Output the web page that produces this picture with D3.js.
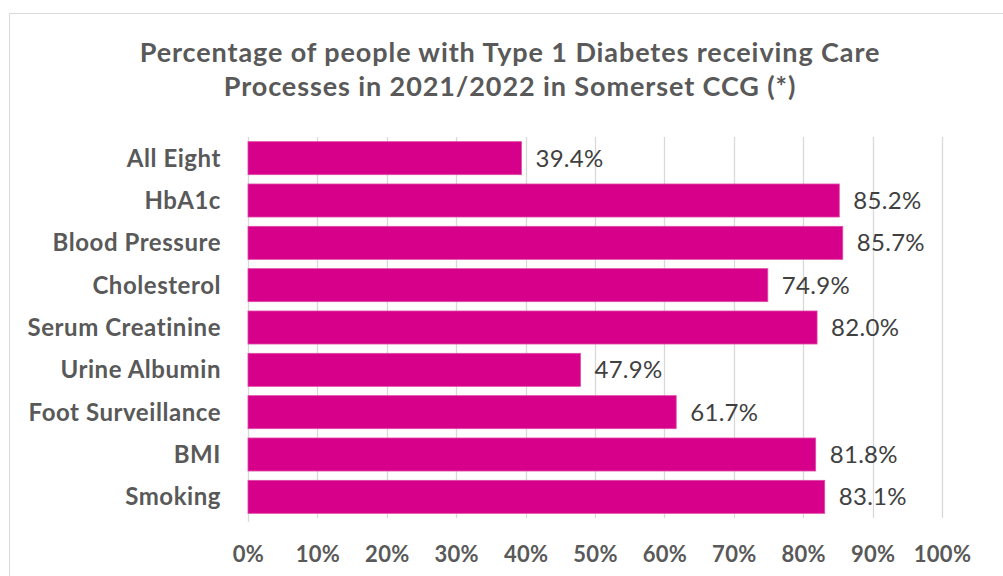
<!DOCTYPE html>
<html>
<head>
<meta charset="utf-8">
<script src="https://cdn.jsdelivr.net/npm/d3@7"></script>
<style>
  html, body { margin: 0; padding: 0; background: #fff; }
  svg { display: block; }
  text { font-family: Lato, "Open Sans", sans-serif; }
</style>
</head>
<body>
<svg id="chart" width="1003" height="576"></svg>
<script>
// Care process categories, top to bottom
const categories = [
  "All Eight", "HbA1c", "Blood Pressure", "Cholesterol", "Serum Creatinine",
  "Urine Albumin", "Foot Surveillance", "BMI", "Smoking"
];
// Percentage of people receiving each care process
const values = [39.4, 85.2, 85.7, 74.9, 82.0, 47.9, 61.7, 81.8, 83.1];
// Axis ticks (percent)
const ticks = [0, 10, 20, 30, 40, 50, 60, 70, 80, 90, 100];
const titleLines = [
  "Percentage of people with Type 1 Diabetes receiving Care",
  "Processes in 2021/2022 in Somerset CCG (*)"
];

const svg = d3.select("#chart");
const W = 1003, H = 576;
const plot = { left: 248, right: 942, top: 137, bottom: 518 };

// chart frame
svg.append("rect")
  .attr("x", 9.5).attr("y", 13.5)
  .attr("width", W + 10).attr("height", H + 10)
  .attr("fill", "#fff").attr("stroke", "#d9d9d9").attr("stroke-width", 1);

// title
svg.append("g").selectAll("text").data(titleLines).join("text")
  .attr("x", 510).attr("y", (d, i) => 62 + i * 34)
  .attr("text-anchor", "middle")
  .attr("font-size", 27).attr("font-weight", 700)
  .attr("letter-spacing", 0.9)
  .attr("fill", "#595959")
  .text(d => d);

const x = d3.scaleLinear().domain([0, 100]).range([plot.left, plot.right]);
const y = d3.scaleBand().domain(categories).range([plot.top, plot.bottom]).paddingInner(0.22).paddingOuter(0.11);

// vertical gridlines
svg.append("g").selectAll("line").data(ticks.slice(1)).join("line")
  .attr("x1", d => Math.round(x(d)) + 0.5).attr("x2", d => Math.round(x(d)) + 0.5)
  .attr("y1", plot.top).attr("y2", plot.bottom)
  .attr("stroke", "#d9d9d9").attr("stroke-width", 1.3);

// x axis (labels only)
const xAxis = d3.axisBottom(x).tickValues(ticks).tickFormat(d => d + "%").tickSize(0).tickPadding(0);
const gx = svg.append("g").attr("transform", `translate(0,${plot.bottom})`).call(xAxis);
gx.select(".domain").remove();
gx.selectAll("text")
  .attr("y", 44).attr("dy", 0)
  .attr("font-size", 22).attr("font-weight", 700)
  .attr("letter-spacing", 0.3)
  .attr("fill", "#595959").attr("font-family", "Lato, sans-serif");

// y axis (labels only) plus vertical axis line
svg.append("line")
  .attr("x1", plot.left + 0.5).attr("x2", plot.left + 0.5)
  .attr("y1", plot.top).attr("y2", plot.bottom + 4)
  .attr("stroke", "#d9d9d9").attr("stroke-width", 1.3);
const yAxis = d3.axisLeft(y).tickSize(0).tickPadding(0);
const gy = svg.append("g").attr("transform", `translate(221,0)`).call(yAxis);
gy.select(".domain").remove();
gy.selectAll("text")
  .attr("dy", "0.35em")
  .attr("font-size", 24).attr("font-weight", 700)
  .attr("letter-spacing", 0.55)
  .attr("fill", "#595959").attr("font-family", "Lato, sans-serif");

const data = categories.map((c, i) => ({ c, v: values[i] }));

// bars
svg.append("g").selectAll("rect").data(data).join("rect")
  .attr("x", x(0)).attr("y", d => y(d.c))
  .attr("width", d => x(d.v) - x(0)).attr("height", y.bandwidth())
  .attr("fill", "#d6008a").attr("stroke", "#e04aa8").attr("stroke-width", 0.8);

// value labels
svg.append("g").selectAll("text").data(data).join("text")
  .attr("x", d => x(d.v) + 14).attr("y", d => y(d.c) + y.bandwidth() / 2)
  .attr("dy", "0.36em")
  .attr("font-size", 24).attr("letter-spacing", 0.3).attr("fill", "#404040")
  .text(d => d.v.toFixed(1) + "%");
</script>
</body>
</html>
